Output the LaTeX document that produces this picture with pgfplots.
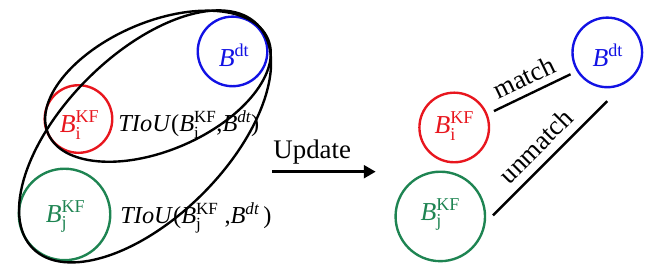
\documentclass[border=0pt]{standalone}
\usepackage{pgfplots}
\pgfplotsset{compat=1.18}
\usetikzlibrary{arrows.meta}
\usepackage{amsmath}
\usepackage{fontspec}
\setmainfont{Liberation Serif}
\definecolor{cred}{RGB}{232,22,30}
\definecolor{cblue}{RGB}{18,18,228}
\definecolor{cgreen}{RGB}{30,132,82}
\newcommand{\BKF}[1]{$\text{\itshape B}_{\text{#1}}^{\text{KF}}$}
\newcommand{\Bdt}{$\text{\itshape B}^{\text{dt}}$}
\newcommand{\Bdti}{$\text{\itshape B}^{\text{\itshape dt}}$}
\begin{document}
\begin{tikzpicture}[lbl/.style={inner sep=0pt, font=\fontsize{26}{30}\selectfont},
  tiou/.style={inner sep=0pt, font=\fontsize{24.5}{28}\selectfont},
  big/.style={inner sep=0pt, font=\fontsize{27}{32}\selectfont}]
\begin{axis}[x=1pt,y=1pt,xmin=0,xmax=657,ymin=0,ymax=259,hide axis,clip=false]
\path (axis cs:0,0) rectangle (axis cs:657,259);
% left panel
\draw[cblue, line width=2.4pt] (axis cs:230,214) circle[radius=35];
\draw[cred, line width=2.4pt] (axis cs:75,146) circle[radius=34];
\draw[cgreen, line width=2.4pt] (axis cs:61,50) circle[radius=46];
\draw[black, line width=2.4pt] (axis cs:155,179) ellipse[x radius=120.4, y radius=64.5, rotate=23.3];
\draw[black, line width=2.4pt] (axis cs:142,128.5) ellipse[x radius=159.5, y radius=81.8, rotate=45];
\node[lbl, text=cblue, anchor=base west] at (axis cs:216,199) {\Bdt};
\node[lbl, text=cred, anchor=base west] at (axis cs:56,132) {\BKF{i}};
\node[lbl, text=cgreen, anchor=base west] at (axis cs:42,42) {\BKF{j}};
\node[tiou, anchor=base west] at (axis cs:115,133) {\textit{TIoU}(\BKF{i},\Bdti)};
\node[tiou, anchor=base west] at (axis cs:117,41) {\textit{TIoU}(\BKF{j} ,\Bdti\,)};
% arrow
\addplot[black, line width=2.6pt, -{Triangle[length=12pt,width=13pt]}] coordinates {(270,93) (374,93)};
\node[big, anchor=base west] at (axis cs:271,106) {Update};
% right panel
\draw[cred, line width=2.4pt] (axis cs:453,137.5) circle[radius=35];
\draw[cgreen, line width=2.4pt] (axis cs:439,48) circle[radius=45];
\draw[cblue, line width=2.4pt] (axis cs:607,213) circle[radius=35];
\node[lbl, text=cred, anchor=base west] at (axis cs:433,131) {\BKF{i}};
\node[lbl, text=cgreen, anchor=base west] at (axis cs:419,44) {\BKF{j}};
\node[lbl, text=cblue, anchor=base west] at (axis cs:592,199) {\Bdt};
\addplot[black, line width=2.4pt] coordinates {(493,154) (570,191)};
\addplot[black, line width=2.4pt] coordinates {(492,49) (607,164)};
\node[big, rotate=25.7] at (axis cs:523,188) {match};
\node[big, rotate=45] at (axis cs:535,119) {unmatch};
\end{axis}
\end{tikzpicture}
\end{document}
